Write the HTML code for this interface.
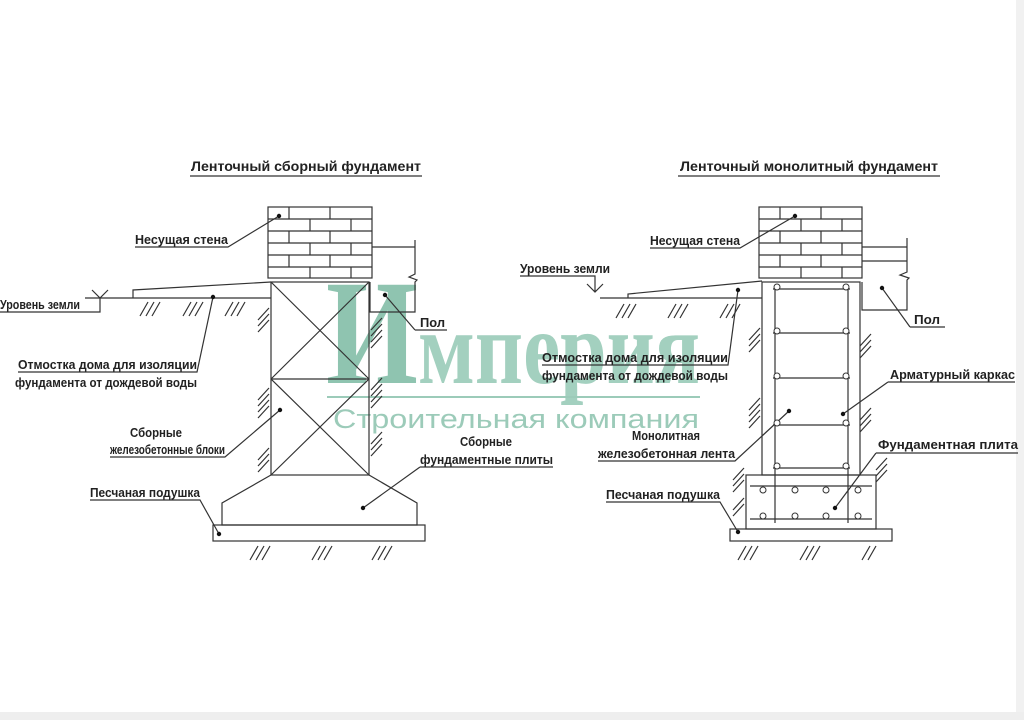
<!DOCTYPE html>
<html><head><meta charset="utf-8"><style>
html,body{margin:0;padding:0;background:#fff;width:1024px;height:720px;overflow:hidden}
svg{display:block}
text{font-family:"Liberation Sans Narrow","Liberation Sans",sans-serif;font-weight:bold;fill:#222;font-size:12.5px}
</style></head><body>
<svg width="1024" height="720" viewBox="0 0 1024 720" xmlns="http://www.w3.org/2000/svg">
<rect x="0" y="0" width="1024" height="720" fill="#fff"/>
<rect x="1016" y="0" width="8" height="720" fill="#f1f1f1"/>
<rect x="0" y="712" width="1024" height="8" fill="#eeeeee"/>

<!-- watermark -->
<g fill="#9ccbb9">
<text x="326" y="383" style="font-family:'Liberation Serif',serif;font-size:150px;font-weight:bold;fill:#8fc4b0" textLength="92" lengthAdjust="spacingAndGlyphs">И</text>
<text x="418" y="383" style="font-family:'Liberation Serif',serif;font-size:104px;font-weight:bold;fill:#a3d0bf" textLength="282" lengthAdjust="spacingAndGlyphs">мперия</text>
<rect x="327" y="396" width="373" height="2"/>
<text x="333" y="428" style="font-family:'Liberation Sans',sans-serif;font-size:27px;font-weight:normal;fill:#9ccbb9" textLength="366" lengthAdjust="spacingAndGlyphs">Строительная компания</text>
</g>

<g stroke="#333" stroke-width="1.2" fill="none">
<!-- ===== LEFT ===== -->
<line x1="190" y1="176" x2="422" y2="176"/>
<rect x="268" y="207" width="104" height="71"/>
<path d="M268 219H372M268 231H372M268 243H372M268 255H372M268 267H372"/>
<path d="M289 207V219M330 207V219M310 219V231M351 219V231M289 231V243M330 231V243M310 243V255M351 243V255M289 255V267M330 255V267M310 267V278M351 267V278"/>
<rect x="271" y="282" width="98" height="193"/>
<line x1="271" y1="379" x2="369" y2="379"/>
<path d="M271 282L369 379M369 282L271 379M271 379L369 475M369 379L271 475"/>
<path d="M271 475L222 503V525H417V503L369 475"/>
<rect x="213" y="525" width="212" height="16"/>
<path d="M372 247H415M415 240V274l-6 3 8 3-2 2V312H370V282"/>
<path d="M85 298H271M133 298V290L271 282"/>
<path d="M0 312H100V298M92 290L100 298L108 290"/>
<path d="M140 316l8 -14M146 316l8 -14M152 316l8 -14M183 316l8 -14M189 316l8 -14M195 316l8 -14M225 316l8 -14M231 316l8 -14M237 316l8 -14"/>
<path d="M258 320l11 -12M258 326l11 -12M258 332l11 -12M258 400l11 -12M258 406l11 -12M258 412l11 -12M258 418l11 -12M258 460l11 -12M258 466l11 -12M258 472l11 -12"/>
<path d="M371 330l11 -12M371 336l11 -12M371 342l11 -12M371 348l11 -12M371 390l11 -12M371 396l11 -12M371 402l11 -12M371 408l11 -12M371 444l11 -12M371 450l11 -12M371 456l11 -12"/>
<path d="M250 560l8 -14M256 560l8 -14M262 560l8 -14M312 560l8 -14M318 560l8 -14M324 560l8 -14M372 560l8 -14M378 560l8 -14M384 560l8 -14"/>
<path d="M135 247H228L279 216"/>
<path d="M415 330H447M415 330L385 295"/>
<path d="M18 372H197L213 297"/>
<path d="M110 457H225L280 410"/>
<path d="M420 467H553M420 467L363 508"/>
<path d="M90 500H200L219 534"/>

<!-- ===== RIGHT ===== -->
<line x1="678" y1="176" x2="940" y2="176"/>
<rect x="759" y="207" width="103" height="71"/>
<path d="M759 219H862M759 231H862M759 243H862M759 255H862M759 267H862"/>
<path d="M780 207V219M821 207V219M801 219V231M842 219V231M780 231V243M821 231V243M801 243V255M842 243V255M780 255V267M821 255V267M801 267V278M842 267V278"/>
<rect x="762" y="282" width="98" height="193"/>
<rect x="746" y="475" width="130" height="54"/>
<rect x="730" y="529" width="162" height="12"/>
<path d="M775 285V523M848 285V523"/>
<path d="M773 289H850M773 333H850M773 378H850M773 425H850M773 468H850M750 486H872M750 519H872"/>
<path d="M862 247H907M862 261H907M907 238V272l-7 3 9 3-2 2V310H862V282"/>
<path d="M600 298H762M628 298V294L762 281"/>
<path d="M520 276H595V292M587 284L595 292L603 284"/>
<path d="M616 318l8 -14M622 318l8 -14M628 318l8 -14M668 318l8 -14M674 318l8 -14M680 318l8 -14M720 318l8 -14M726 318l8 -14M732 318l8 -14"/>
<path d="M749 340l11 -12M749 346l11 -12M749 352l11 -12M749 410l11 -12M749 416l11 -12M749 422l11 -12M749 428l11 -12"/>
<path d="M860 346l11 -12M860 352l11 -12M860 358l11 -12M860 420l11 -12M860 426l11 -12M860 432l11 -12"/>
<path d="M733 480l11 -12M733 486l11 -12M733 492l11 -12M733 510l11 -12M733 516l11 -12M876 470l11 -12M876 476l11 -12M876 482l11 -12"/>
<path d="M738 560l8 -14M744 560l8 -14M750 560l8 -14M800 560l8 -14M806 560l8 -14M812 560l8 -14M862 560l8 -14M868 560l8 -14"/>
<path d="M650 248H740L795 216"/>
<path d="M910 327H945M910 327L882 288"/>
<path d="M542 365H728L738 290"/>
<path d="M888 382H1015M888 382L843 414"/>
<path d="M598 461H735L789 411"/>
<path d="M876 453H1018M876 453L835 508"/>
<path d="M606 502H720L738 532"/>
</g>
<g stroke="#333" stroke-width="1" fill="#fff">
<circle cx="777" cy="287" r="3"/><circle cx="846" cy="287" r="3"/>
<circle cx="777" cy="331" r="3"/><circle cx="846" cy="331" r="3"/>
<circle cx="777" cy="376" r="3"/><circle cx="846" cy="376" r="3"/>
<circle cx="777" cy="423" r="3"/><circle cx="846" cy="423" r="3"/>
<circle cx="777" cy="466" r="3"/><circle cx="846" cy="466" r="3"/>
<circle cx="763" cy="490" r="3"/><circle cx="795" cy="490" r="3"/><circle cx="826" cy="490" r="3"/><circle cx="858" cy="490" r="3"/>
<circle cx="763" cy="516" r="3"/><circle cx="795" cy="516" r="3"/><circle cx="826" cy="516" r="3"/><circle cx="858" cy="516" r="3"/>
</g>
<g fill="#111">
<circle cx="279" cy="216" r="2.2"/><circle cx="385" cy="295" r="2.2"/><circle cx="213" cy="297" r="2.2"/>
<circle cx="280" cy="410" r="2.2"/><circle cx="363" cy="508" r="2.2"/><circle cx="219" cy="534" r="2.2"/>
<circle cx="795" cy="216" r="2.2"/><circle cx="882" cy="288" r="2.2"/><circle cx="738" cy="290" r="2.2"/>
<circle cx="843" cy="414" r="2.2"/><circle cx="789" cy="411" r="2.2"/><circle cx="835" cy="508" r="2.2"/><circle cx="738" cy="532" r="2.2"/>
</g>

<text x="191" y="171" textLength="230" lengthAdjust="spacingAndGlyphs" style="font-size:14px">Ленточный сборный фундамент</text>
<text x="680" y="171" textLength="258" lengthAdjust="spacingAndGlyphs" style="font-size:14px">Ленточный монолитный фундамент</text>

<text x="135" y="244" textLength="93" lengthAdjust="spacingAndGlyphs">Несущая стена</text>
<text x="0" y="309" textLength="80" lengthAdjust="spacingAndGlyphs">Уровень земли</text>
<text x="420" y="327" textLength="25" lengthAdjust="spacingAndGlyphs">Пол</text>
<text x="18" y="369" textLength="179" lengthAdjust="spacingAndGlyphs">Отмостка дома для изоляции</text>
<text x="15" y="387" textLength="182" lengthAdjust="spacingAndGlyphs">фундамента от дождевой воды</text>
<text x="130" y="437" textLength="52" lengthAdjust="spacingAndGlyphs">Сборные</text>
<text x="110" y="454" textLength="115" lengthAdjust="spacingAndGlyphs">железобетонные блоки</text>
<text x="460" y="446" textLength="52" lengthAdjust="spacingAndGlyphs">Сборные</text>
<text x="420" y="464" textLength="133" lengthAdjust="spacingAndGlyphs">фундаментные плиты</text>
<text x="90" y="497" textLength="110" lengthAdjust="spacingAndGlyphs">Песчаная подушка</text>

<text x="520" y="273" textLength="90" lengthAdjust="spacingAndGlyphs">Уровень земли</text>
<text x="650" y="245" textLength="90" lengthAdjust="spacingAndGlyphs">Несущая стена</text>
<text x="914" y="324" textLength="26" lengthAdjust="spacingAndGlyphs">Пол</text>
<text x="542" y="362" textLength="186" lengthAdjust="spacingAndGlyphs">Отмостка дома для изоляции</text>
<text x="542" y="380" textLength="186" lengthAdjust="spacingAndGlyphs">фундамента от дождевой воды</text>
<text x="890" y="379" textLength="125" lengthAdjust="spacingAndGlyphs">Арматурный каркас</text>
<text x="632" y="440" textLength="68" lengthAdjust="spacingAndGlyphs">Монолитная</text>
<text x="598" y="458" textLength="137" lengthAdjust="spacingAndGlyphs">железобетонная лента</text>
<text x="878" y="449" textLength="140" lengthAdjust="spacingAndGlyphs">Фундаментная плита</text>
<text x="606" y="499" textLength="114" lengthAdjust="spacingAndGlyphs">Песчаная подушка</text>
</svg>
</body></html>
